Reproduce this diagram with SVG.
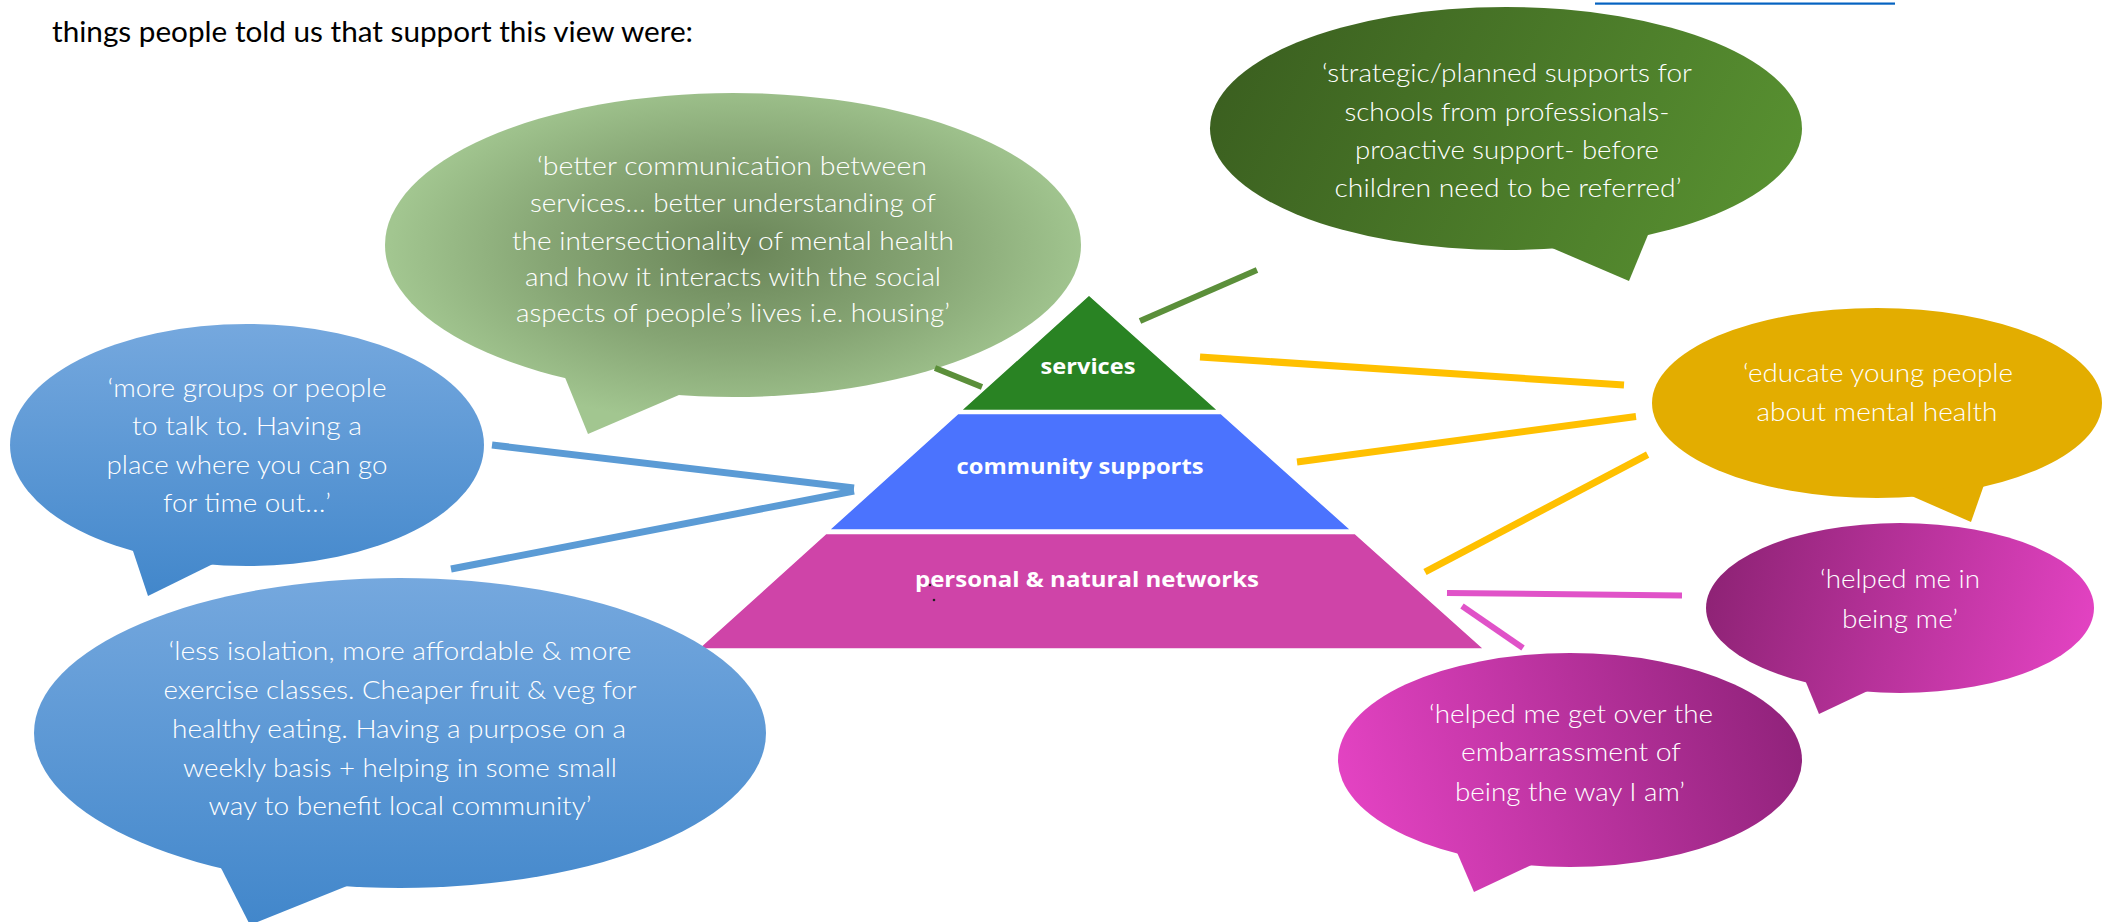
<svg xmlns="http://www.w3.org/2000/svg" width="2110" height="922" viewBox="0 0 2110 922">
  <style>
    .quote { font-family: Lato, "Open Sans", "Liberation Sans", sans-serif; font-size: 25px; font-weight: 300; fill: #ffffff; text-anchor: middle; }
    .tier { font-family: "Open Sans", "Liberation Sans", sans-serif; font-size: 22px; font-weight: bold; fill: #ffffff; text-anchor: middle; }
    .body { font-family: Lato, "Open Sans", "Liberation Sans", sans-serif; font-size: 28px; fill: #000000; }
    .wire { fill: none; stroke-linecap: butt; }
    .wire-green { stroke: #5b8f3a; stroke-width: 6; }
    .wire-gold { stroke: #ffc000; stroke-width: 7; }
    .wire-pink { stroke: #e052c8; stroke-width: 6; }
    .wire-blue { stroke: #5b9bd5; stroke-width: 7; }
    .tier-shape { stroke: #ffffff; stroke-width: 1.5; }
  </style>
  <defs>
    <linearGradient id="gSchools" gradientUnits="userSpaceOnUse" x1="1230" y1="20" x2="1780" y2="290">
      <stop offset="0" stop-color="#3a5e1f"/>
      <stop offset="1" stop-color="#5a9432"/>
    </linearGradient>
    <radialGradient id="gServices" gradientUnits="userSpaceOnUse" cx="740" cy="250" r="350" gradientTransform="translate(740 250) scale(1 0.5) translate(-740 -250)">
      <stop offset="0" stop-color="#6a8558"/>
      <stop offset="0.55" stop-color="#86a574"/>
      <stop offset="1" stop-color="#a2c690"/>
    </radialGradient>
    <linearGradient id="gBlueSmall" gradientUnits="userSpaceOnUse" x1="0" y1="325" x2="0" y2="596">
      <stop offset="0" stop-color="#75a8de"/>
      <stop offset="1" stop-color="#4287cb"/>
    </linearGradient>
    <linearGradient id="gBlueLarge" gradientUnits="userSpaceOnUse" x1="0" y1="578" x2="0" y2="922">
      <stop offset="0" stop-color="#75a8de"/>
      <stop offset="1" stop-color="#4287cb"/>
    </linearGradient>
    <linearGradient id="gBeingMe" gradientUnits="userSpaceOnUse" x1="1720" y1="560" x2="2090" y2="660">
      <stop offset="0" stop-color="#8f2376"/>
      <stop offset="1" stop-color="#e443c3"/>
    </linearGradient>
    <linearGradient id="gWayIAm" gradientUnits="userSpaceOnUse" x1="1350" y1="820" x2="1780" y2="690">
      <stop offset="0" stop-color="#e443c3"/>
      <stop offset="1" stop-color="#92237c"/>
    </linearGradient>
  </defs>

  <rect width="2110" height="922" fill="#ffffff"/>

  <!-- intro sentence and hyperlink underline from the line above -->
  <rect x="1595" y="2.5" width="300" height="2.2" fill="#0563c1"/>
  <text class="body" x="52" y="42" textLength="641" lengthAdjust="spacingAndGlyphs">things people told us that support this view were:</text>

  <!-- three-tier pyramid -->
  <g id="pyramid">
    <g id="tier-services">
      <polygon class="tier-shape" points="1089,295 1218,410.5 961,410.5" fill="#298323"/>
      <text class="tier" x="1088" y="374" textLength="95" lengthAdjust="spacingAndGlyphs">services</text>
    </g>
    <g id="tier-community">
      <polygon class="tier-shape" points="958,413.5 1221,413.5 1351,530 829,530" fill="#4b73fe"/>
      <text class="tier" x="1080" y="474" textLength="247" lengthAdjust="spacingAndGlyphs">community supports</text>
    </g>
    <g id="tier-personal">
      <polygon class="tier-shape" points="826,533.5 1355,533.5 1484,649 698,649" fill="#cf44a8"/>
      <text class="tier" x="1087" y="587" textLength="344" lengthAdjust="spacingAndGlyphs">personal &amp; natural networks</text>
      <circle cx="930" cy="585" r="1.2" fill="#222222"/>
      <circle cx="934" cy="600" r="1.3" fill="#222222"/>
    </g>
  </g>

  <!-- speech bubbles -->
  <g id="bubble-schools">
    <ellipse cx="1506" cy="128.5" rx="296" ry="121.5" fill="url(#gSchools)"/>
    <polygon points="1545,245 1629,281 1650,230" fill="url(#gSchools)"/>
    <text class="quote" x="1507" y="82" textLength="370" lengthAdjust="spacingAndGlyphs">‘strategic/planned supports for</text>
    <text class="quote" x="1507" y="121" textLength="325" lengthAdjust="spacingAndGlyphs">schools from professionals-</text>
    <text class="quote" x="1507" y="159" textLength="304" lengthAdjust="spacingAndGlyphs">proactive support- before</text>
    <text class="quote" x="1508" y="197" textLength="347" lengthAdjust="spacingAndGlyphs">children need to be referred’</text>
  </g>

  <g id="bubble-services">
    <ellipse cx="733" cy="245" rx="348" ry="152" fill="url(#gServices)"/>
    <polygon points="564,375 588,434 686,392" fill="url(#gServices)"/>
    <text class="quote" x="732" y="175" textLength="390" lengthAdjust="spacingAndGlyphs">‘better communication between</text>
    <text class="quote" x="733" y="212" textLength="406" lengthAdjust="spacingAndGlyphs">services… better understanding of</text>
    <text class="quote" x="733" y="250" textLength="442" lengthAdjust="spacingAndGlyphs">the intersectionality of mental health</text>
    <text class="quote" x="733" y="286" textLength="416" lengthAdjust="spacingAndGlyphs">and how it interacts with the social</text>
    <text class="quote" x="733" y="322" textLength="434" lengthAdjust="spacingAndGlyphs">aspects of people’s lives i.e. housing’</text>
  </g>

  <g id="bubble-groups">
    <ellipse cx="247" cy="445" rx="237" ry="121" fill="url(#gBlueSmall)"/>
    <polygon points="132,548 148,596 217,562" fill="url(#gBlueSmall)"/>
    <text class="quote" x="247" y="397" textLength="279" lengthAdjust="spacingAndGlyphs">‘more groups or people</text>
    <text class="quote" x="247" y="435" textLength="230" lengthAdjust="spacingAndGlyphs">to talk to.  Having a</text>
    <text class="quote" x="247" y="474" textLength="281" lengthAdjust="spacingAndGlyphs">place where you can go</text>
    <text class="quote" x="247" y="512" textLength="168" lengthAdjust="spacingAndGlyphs">for time out…’</text>
  </g>

  <g id="bubble-isolation">
    <ellipse cx="400" cy="733" rx="366" ry="155" fill="url(#gBlueLarge)"/>
    <polygon points="220,866 250,925 352,884" fill="url(#gBlueLarge)"/>
    <text class="quote" x="400" y="660" textLength="463" lengthAdjust="spacingAndGlyphs">‘less isolation, more affordable &amp; more</text>
    <text class="quote" x="400" y="699" textLength="473" lengthAdjust="spacingAndGlyphs">exercise classes. Cheaper fruit &amp; veg for</text>
    <text class="quote" x="399" y="738" textLength="454" lengthAdjust="spacingAndGlyphs">healthy eating.  Having a purpose on a</text>
    <text class="quote" x="400" y="777" textLength="434" lengthAdjust="spacingAndGlyphs">weekly basis + helping in some small</text>
    <text class="quote" x="400" y="815" textLength="383" lengthAdjust="spacingAndGlyphs">way to benefit local community’</text>
  </g>

  <g id="bubble-educate">
    <ellipse cx="1877" cy="403" rx="225" ry="95" fill="#e3ad00"/>
    <polygon points="1907,494 1971,522 1985,482" fill="#e3ad00"/>
    <text class="quote" x="1878" y="382" textLength="270" lengthAdjust="spacingAndGlyphs">‘educate young people</text>
    <text class="quote" x="1877" y="421" textLength="241" lengthAdjust="spacingAndGlyphs">about mental health</text>
  </g>

  <g id="bubble-being-me">
    <ellipse cx="1900" cy="608" rx="194" ry="85" fill="url(#gBeingMe)"/>
    <polygon points="1805,680 1819,714 1874,688" fill="url(#gBeingMe)"/>
    <text class="quote" x="1900" y="588" textLength="160" lengthAdjust="spacingAndGlyphs">‘helped me in</text>
    <text class="quote" x="1900" y="628" textLength="116" lengthAdjust="spacingAndGlyphs">being me’</text>
  </g>

  <g id="bubble-way-i-am">
    <ellipse cx="1570" cy="760" rx="232" ry="107" fill="url(#gWayIAm)"/>
    <polygon points="1456,850 1474,892 1540,861" fill="url(#gWayIAm)"/>
    <text class="quote" x="1571" y="723" textLength="284" lengthAdjust="spacingAndGlyphs">‘helped me get over the</text>
    <text class="quote" x="1571" y="761" textLength="220" lengthAdjust="spacingAndGlyphs">embarrassment of</text>
    <text class="quote" x="1570" y="801" textLength="230" lengthAdjust="spacingAndGlyphs">being the way I am’</text>
  </g>

  <!-- connectors between bubbles and pyramid tiers -->
  <g id="connectors">
    <line class="wire wire-green" x1="1257" y1="270" x2="1140" y2="321"/>
    <line class="wire wire-green" x1="935" y1="368" x2="982" y2="387"/>
    <line class="wire wire-gold" x1="1200" y1="357" x2="1624" y2="385"/>
    <line class="wire wire-gold" x1="1297" y1="462" x2="1636" y2="416.5"/>
    <line class="wire wire-gold" x1="1425" y1="572" x2="1647.6" y2="454.6"/>
    <line class="wire wire-pink" x1="1447" y1="593" x2="1682" y2="595.5"/>
    <line class="wire wire-pink" x1="1462" y1="606" x2="1523" y2="648"/>
    <line class="wire wire-blue" x1="492" y1="445" x2="854" y2="488"/>
    <line class="wire wire-blue" x1="451" y1="569" x2="854" y2="491"/>
  </g>
</svg>
